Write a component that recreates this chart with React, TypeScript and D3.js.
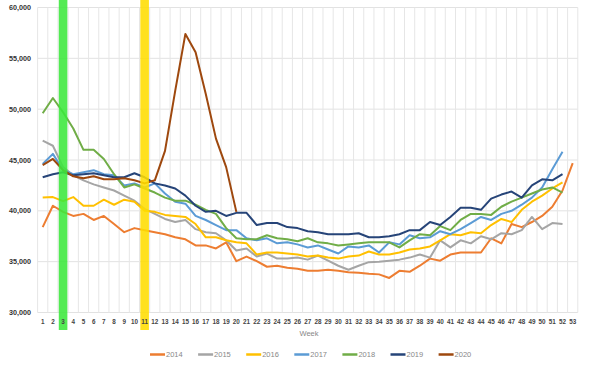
import React from "react";
import * as d3 from "d3";

const weeks: number[] = Array.from({ length: 53 }, (_, i) => i + 1);
const yTicks: number[] = [30000, 35000, 40000, 45000, 50000, 55000, 60000];

const y2014 = [38.4, 40.5, 39.9, 39.5, 39.7, 39.1, 39.5, 38.7, 37.9, 38.3, 38.1, 37.9, 37.7, 37.4, 37.2, 36.6, 36.6, 36.3, 36.9, 35.05, 35.5, 35.05, 34.5, 34.6, 34.4, 34.3, 34.1, 34.1, 34.2, 34.1, 33.97, 33.9, 33.8, 33.75, 33.4, 34.1, 34.0, 34.6, 35.3, 35.1, 35.7, 35.9, 35.9, 35.9, 37.3, 36.8, 38.7, 38.4, 38.9, 39.5, 40.4, 42.0, 44.7];
const y2015 = [46.9, 46.4, 44.3, 43.5, 43.0, 42.6, 42.3, 42.0, 41.5, 41.0, 40.2, 39.7, 39.2, 38.9, 39.1, 38.2, 37.9, 37.8, 37.1, 36.1, 36.3, 35.5, 35.8, 35.3, 35.3, 35.4, 35.2, 35.6, 35.1, 34.6, 34.2, 34.6, 34.95, 35.0, 35.1, 35.2, 35.4, 35.7, 35.4, 37.1, 36.4, 37.1, 36.8, 37.5, 37.2, 37.8, 37.7, 38.1, 39.4, 38.2, 38.8, 38.7];
const y2016 = [41.3, 41.35, 40.95, 41.35, 40.5, 40.5, 41.1, 40.6, 41.1, 40.9, 40.0, 39.9, 39.6, 39.5, 39.4, 38.7, 37.4, 37.4, 37.1, 36.9, 36.8, 35.7, 35.9, 35.9, 35.8, 35.7, 35.5, 35.6, 35.4, 35.3, 35.5, 35.6, 36.0, 35.7, 35.7, 35.9, 36.2, 36.3, 36.5, 37.1, 37.7, 37.6, 37.9, 37.8, 38.6, 39.2, 38.9, 40.1, 40.9, 41.5, 42.2, 42.8];
const y2017 = [44.6, 45.6, 44.0, 43.6, 43.8, 44.0, 43.6, 43.5, 42.5, 42.7, 42.3, 42.7, 41.7, 40.9, 40.7, 39.5, 39.1, 38.6, 38.1, 38.1, 37.3, 37.1, 37.3, 36.8, 36.9, 36.7, 36.4, 36.6, 36.2, 35.8, 36.5, 36.4, 36.6, 35.9, 36.9, 36.7, 37.6, 37.3, 37.4, 38.0, 37.7, 38.2, 38.8, 39.4, 39.1, 39.7, 40.0, 40.6, 41.3, 42.3, 44.1, 45.8];
const y2018 = [49.6, 51.1, 49.7, 48.1, 46.0, 46.0, 45.1, 43.6, 42.3, 42.6, 42.2, 41.8, 41.3, 41.0, 41.0, 40.6, 40.1, 39.7, 38.3, 37.3, 37.2, 37.2, 37.6, 37.3, 37.2, 37.0, 37.3, 36.9, 36.8, 36.6, 36.7, 36.8, 36.9, 36.9, 36.9, 36.4, 37.1, 37.7, 37.6, 38.5, 38.1, 39.1, 39.7, 39.7, 39.6, 40.4, 40.9, 41.3, 41.7, 42.1, 42.3, 41.8];
const y2019 = [43.3, 43.6, 43.8, 43.5, 43.6, 43.7, 43.5, 43.3, 43.3, 43.7, 43.3, 42.7, 42.5, 42.2, 41.5, 40.5, 39.9, 40.0, 39.5, 39.8, 39.8, 38.6, 38.8, 38.8, 38.4, 38.3, 38.0, 37.9, 37.7, 37.7, 37.7, 37.8, 37.4, 37.4, 37.5, 37.7, 38.1, 38.1, 38.9, 38.6, 39.4, 40.3, 40.3, 40.1, 41.2, 41.6, 41.9, 41.3, 42.5, 43.1, 43.0, 43.6];
const y2020 = [44.5, 45.1, 44.0, 43.4, 43.2, 43.4, 43.1, 43.1, 43.2, 43.0, 42.7, 43.0, 45.9, 51.8, 57.4, 55.6, 51.5, 47.1, 44.3, 39.9];

const seriesNames = ["2014", "2015", "2016", "2017", "2018", "2019", "2020"];
const seriesValues = [y2014, y2015, y2016, y2017, y2018, y2019, y2020];
const seriesColors = ["#ED7D31", "#A5A5A5", "#FFC000", "#5B9BD5", "#70AD47", "#264478", "#9E480E"];

const highlightWeeks = [3, 11];
const highlightColors = ["#3BE83B", "#FFDD00"];

const W = 592;
const H = 368;
const left = 37.6;
const right = 577.8;
const top = 7.5;
const bottom = 312.5;

export default function App() {
  const x = d3.scaleBand<number>().domain(weeks).range([left, right]);
  const y = d3.scaleLinear().domain([30000, 60000]).range([bottom, top]);
  const cx = (w: number) => (x(w) as number) + x.bandwidth() / 2;
  const line = d3
    .line<number>()
    .x((_, i) => cx(i + 1))
    .y((v) => y(v * 1000));
  const fmt = d3.format(",");
  const font = "'Liberation Sans', Arial, sans-serif";

  return (
    <svg
      width={W}
      height={H}
      style={{ position: "fixed", left: 0, top: 0, background: "#fff" }}
      fontFamily={font}
    >
      {/* horizontal gridlines */}
      {yTicks.map((t) => (
        <line key={"h" + t} x1={left} x2={right} y1={y(t)} y2={y(t)} stroke="#e2e2e2" strokeWidth={1} />
      ))}
      {/* vertical gridlines */}
      {weeks.map((w) => (
        <line key={"v" + w} x1={x(w) as number} x2={x(w) as number} y1={top} y2={bottom} stroke="#e6e6e6" strokeWidth={1} />
      ))}
      <line x1={right} x2={right} y1={top} y2={bottom} stroke="#e6e6e6" strokeWidth={1} />
      {/* y labels */}
      {yTicks.map((t) => (
        <text key={"yl" + t} x={31} y={y(t) + 2.5} textAnchor="end" fontSize={7.2} fontWeight="bold" fill="#333">
          {fmt(t)}
        </text>
      ))}
      {/* series lines */}
      {seriesValues.map((vals, i) => (
        <path key={seriesNames[i]} d={line(vals) || ""} fill="none" stroke={seriesColors[i]} strokeWidth={2} strokeLinejoin="round" />
      ))}
      {/* highlight bands */}
      {highlightWeeks.map((w, i) => (
        <rect key={"b" + w} x={cx(w) - 4.3} width={8.6} y={0} height={330} fill={highlightColors[i]} opacity={0.88} />
      ))}
      {/* x labels */}
      {weeks.map((w) => (
        <text key={"xl" + w} x={cx(w)} y={324} textAnchor="middle" fontSize={6.3} fontWeight="bold" fill="#444">
          {w}
        </text>
      ))}
      <text x={309} y={336} textAnchor="middle" fontSize={7.5} fill="#888">
        Week
      </text>
      {/* legend */}
      {seriesNames.map((n, i) => {
        const lx = 150 + i * 48.1;
        return (
          <g key={"lg" + n}>
            <line x1={lx} x2={lx + 15} y1={354.5} y2={354.5} stroke={seriesColors[i]} strokeWidth={2.5} />
            <text x={lx + 16} y={357.3} fontSize={7.5} fill="#888">
              {n}
            </text>
          </g>
        );
      })}
    </svg>
  );
}
